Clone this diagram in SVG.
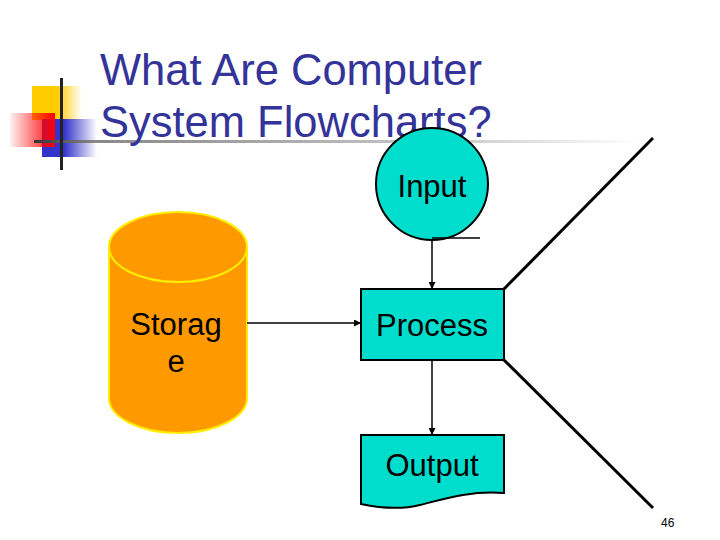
<svg xmlns="http://www.w3.org/2000/svg" width="720" height="540" viewBox="0 0 720 540">
<defs>
<linearGradient id="gy" x1="0" x2="1" y1="0" y2="0"><stop offset="0" stop-color="#FFCC00"/><stop offset="0.5" stop-color="#FFCC00"/><stop offset="1" stop-color="#FFCC00" stop-opacity="0"/></linearGradient>
<linearGradient id="gr" x1="1" x2="0" y1="0" y2="0"><stop offset="0" stop-color="#FF0000"/><stop offset="1" stop-color="#FF0000" stop-opacity="0.05"/></linearGradient>
<linearGradient id="gb" x1="0" x2="1" y1="0" y2="0"><stop offset="0" stop-color="#3333CC"/><stop offset="0.4" stop-color="#3333CC"/><stop offset="1" stop-color="#3333CC" stop-opacity="0"/></linearGradient>
<linearGradient id="gl" x1="0" x2="1" y1="0" y2="0"><stop offset="0" stop-color="#333333"/><stop offset="0.1" stop-color="#888888"/><stop offset="0.7" stop-color="#CCCCCC"/><stop offset="1" stop-color="#FFFFFF"/></linearGradient>
<marker id="ah" viewBox="0 0 10 10" refX="10" refY="5" markerWidth="7" markerHeight="7" markerUnits="userSpaceOnUse" orient="auto"><path d="M0,0 L10,5 L0,10 z" fill="#000"/></marker>
<style>
.lbl{font-family:"Liberation Sans",Arial,sans-serif;font-size:31px;fill:#000;text-anchor:middle}
.title{font-family:"Liberation Sans",Arial,sans-serif;font-size:43.5px;fill:#333399}
.teal{fill:#00DDCC;stroke:#000;stroke-width:2}
.conn{stroke:#000;stroke-width:1.5;fill:none}
.diag{stroke:#000;stroke-width:3;fill:none}
</style>
</defs>
<g id="logo">
<rect x="32" y="86" width="50" height="34" fill="url(#gy)"/>
<rect x="42" y="119" width="55" height="38" fill="url(#gb)"/>
<rect x="10" y="113" width="45" height="34" fill="url(#gr)"/>
<rect x="34" y="140" width="606" height="3" fill="url(#gl)"/>
<rect x="60" y="78" width="3" height="92" fill="#222"/>
</g>
<g id="title">
<text class="title" x="100" y="85">What Are Computer</text>
<text class="title" x="100" y="137">System Flowcharts?</text>
</g>
<g id="storage">
<path d="M109,247 L109,398 A69,35 0 0 0 247,398 L247,247" fill="#FF9900" stroke="#FFEE00" stroke-width="2"/>
<ellipse cx="178" cy="247" rx="69" ry="35" fill="#FF9900" stroke="#FFEE00" stroke-width="2"/>
<text class="lbl" x="176" y="335">Storag</text>
<text class="lbl" x="176" y="372">e</text>
</g>
<g id="input">
<circle class="teal" cx="432" cy="184" r="56"/>
<text class="lbl" x="432" y="197">Input</text>
</g>
<g id="process">
<rect class="teal" x="361" y="289" width="143" height="71"/>
<text class="lbl" x="432" y="336">Process</text>
</g>
<g id="output">
<path class="teal" d="M361,435 L504,435 L504,493 C470,490 440,500 420,505 C400,510 380,508 361,504 Z"/>
<text class="lbl" x="432" y="476">Output</text>
</g>
<g id="connectors">
<line class="conn" x1="432" y1="238" x2="480" y2="238"/>
<line class="conn" x1="432" y1="240" x2="432" y2="289" marker-end="url(#ah)"/>
<line class="conn" x1="247" y1="323" x2="361" y2="323" marker-end="url(#ah)"/>
<line class="conn" x1="432" y1="360" x2="432" y2="435" marker-end="url(#ah)"/>
<line class="diag" x1="504" y1="289" x2="653" y2="138"/>
<line class="diag" x1="504" y1="360" x2="653" y2="508"/>
</g>
<text x="661" y="527" font-family="Liberation Sans,Arial,sans-serif" font-size="12" fill="#000">46</text>
</svg>
